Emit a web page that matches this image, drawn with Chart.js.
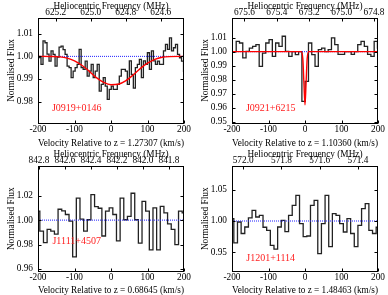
<!DOCTYPE html>
<html>
<head>
<meta charset="utf-8">
<script src="https://cdn.jsdelivr.net/npm/chart.js@4/dist/chart.umd.min.js"></script>
<style>
  html, body { margin: 0; padding: 0; background: #fff; }
  .grid { position: relative; width: 388px; height: 295px; }
  .grid canvas { position: absolute; }
</style>
</head>
<body>
<div class="grid">
  <canvas id="p1" width="194" height="148" style="left:0;top:0"></canvas>
  <canvas id="p2" width="194" height="148" style="left:194px;top:0"></canvas>
  <canvas id="p3" width="194" height="147" style="left:0;top:148px"></canvas>
  <canvas id="p4" width="194" height="147" style="left:194px;top:148px"></canvas>
</div>
<script>
const HI_REST = 1420.405751;
const C_KMS = 299792.458;
const CONTINUUM = 1.0;
const VEL_TICKS = [-200, -100, 0, 100, 200];

// J0919+0146
const j0919Z = 1.27307;
const j0919Freq = [625.2, 625.0, 624.8, 624.6];
const j0919FluxTicks = [0.98, 0.99, 1.00, 1.01];
const j0919Chan = [-200, 5.5];
const j0919Flux = [1.000, 0.9995, 0.9965, 1.0068, 1.0060, 1.0010, 0.9979, 1.0024, 1.0009, 0.9957,
  0.9997, 1.0041, 1.0045, 1.0030, 1.0009, 0.9957, 0.9950, 0.9906, 0.9935, 0.9950,
  0.9965, 1.0031, 0.9950, 0.9943, 0.9979, 0.9913, 0.9935, 0.9965, 0.9906, 0.9935,
  0.9965, 0.9847, 0.9876, 0.9906, 0.9869, 0.9810, 0.9854, 0.9869, 0.9854, 0.9854,
  0.9876, 0.9913, 0.9943, 0.9943, 0.9935, 0.9876, 0.9980, 0.9920, 0.9860, 0.9950,
  0.9965, 0.9987, 0.9906, 0.9980, 0.9965, 1.0016, 0.9943, 1.0024, 0.9980, 0.9965,
  0.9979, 0.9965, 0.9965, 1.0024, 1.0053, 1.0031, 1.0082, 1.0024, 1.0038, 1.0053,
  1.0009, 0.9994, 0.9979, 0.9934];
const j0919FitVel = [-200, -160, -140, -120, -100, -80, -60, -40, -20, 0, 20, 40, 60, 80, 100, 120, 140, 160, 200];
const j0919FitFlux = [1.0000, 0.99995, 0.9998, 0.9992, 0.9980, 0.9961, 0.9935, 0.9906, 0.9885, 0.9875,
  0.9877, 0.9892, 0.9917, 0.9946, 0.9970, 0.9987, 0.9996, 0.9999, 1.0000];

// J0921+6215
const j0921Z = 1.10360;
const j0921Freq = [675.6, 675.4, 675.2, 675.0, 674.8];
const j0921FluxTicks = [0.95, 0.96, 0.97, 0.98, 0.99, 1.00, 1.01];
const j0921Chan = [-202, 9];
const j0921Flux = [1.000, 1.000, 1.0074, 1.0062, 0.9955, 1.0002, 1.0026, 1.0038, 1.0050, 0.9895,
  0.9990, 1.0062, 1.0086, 0.9967, 1.0062, 1.0038, 1.0110, 1.0002, 0.9967, 1.000,
  0.9979, 1.000, 0.9645, 0.9788, 1.0062, 0.9979, 0.9895, 1.0014, 1.0026, 1.000,
  1.0014, 1.0098, 1.0050, 0.9980, 0.9980, 1.000, 1.000, 0.9980, 1.000, 1.0050,
  1.0074, 1.0038, 0.9980, 0.9967, 1.0074, 1.0026];
const j0921FitVel = [-200, -10, -6, -3, 0, 3, 6, 10, 200];
const j0921FitFlux = [1.0, 1.0, 0.995, 0.978, 0.962, 0.978, 0.995, 1.0, 1.0];

// J1111+4507
const j1111Z = 0.68645;
const j1111Freq = [842.8, 842.6, 842.4, 842.2, 842.0, 841.8];
const j1111FluxTicks = [0.96, 0.98, 1.00, 1.02];
const j1111Chan = [-200, 10];
const j1111Flux = [1.0073, 0.991, 0.9816, 0.9924, 0.991, 0.9886, 1.0089, 1.0076, 1.0046, 0.9992,
  0.970, 1.018, 1.0008, 0.991, 1.0003, 1.0208, 1.011, 1.0097, 0.987, 1.0073,
  1.010, 1.0046, 0.983, 1.018, 1.0003, 1.003, 1.022, 1.0003, 0.9812, 1.0154,
  1.0073, 0.9757, 1.010, 0.9757, 1.0113, 1.006, 0.997, 0.9924, 0.980, 1.0073, 1.006];

// J1201+1114
const j1201Z = 1.48463;
const j1201Freq = [572.0, 571.8, 571.6, 571.4];
const j1201FluxTicks = [0.95, 1.00, 1.05];
const j1201Chan = [-200, 10];
const j1201Flux = [1.0037, 0.965, 0.9984, 0.980, 0.9904, 1.005, 1.017, 1.0064, 1.009, 0.990,
  0.985, 0.961, 0.955, 0.9904, 1.0011, 0.983, 1.009, 1.025, 1.041, 0.9957,
  0.975, 0.976, 1.025, 1.033, 0.948, 0.9957, 1.041, 0.959, 1.0117, 1.009,
  0.9957, 0.9824, 1.0037, 0.980, 0.959, 0.993, 1.0197, 1.0277, 0.985, 0.980, 0.990];

const FONT = { family: '"Liberation Serif", "Times New Roman", serif', size: 9.3, lineHeight: 1 };

const boxPlugin = {
    id: 'box',
    afterDatasetsDraw(chart) {
        const { ctx, chartArea: a, scales } = chart;
        const p = chart.options.plugins.box;
        ctx.save();
        ctx.strokeStyle = '#000';
        ctx.lineWidth = 1;
        const l = Math.round(a.left) + 0.5, r = Math.round(a.right) - 0.5;
        const t = Math.round(a.top) + 0.5, b = Math.round(a.bottom) - 0.5;
        ctx.strokeRect(l, t, r - l, b - t);
        ctx.beginPath();
        scales.x.ticks.forEach(tk => {
            const px = Math.round(scales.x.getPixelForValue(tk.value)) + 0.5;
            ctx.moveTo(px, b); ctx.lineTo(px, b - 3);
        });
        scales.xTop.ticks.forEach(tk => {
            const px = Math.round(scales.xTop.getPixelForValue(tk.value)) + 0.5;
            ctx.moveTo(px, t); ctx.lineTo(px, t + 3);
        });
        scales.y.ticks.forEach(tk => {
            const py = Math.round(scales.y.getPixelForValue(tk.value)) + 0.5;
            ctx.moveTo(l, py); ctx.lineTo(l + 3, py);
            ctx.moveTo(r, py); ctx.lineTo(r - 3, py);
        });
        ctx.stroke();
        ctx.fillStyle = '#ff2020';
        ctx.font = '10px "Liberation Serif", serif';
        ctx.textAlign = 'center';
        ctx.textBaseline = 'middle';
        ctx.fillText(p.name, a.left + a.width * 0.265, a.top + a.height * p.labelAt);
        ctx.restore();
    }
};

function makePanel(id, p) {
    const f0 = HI_REST / (1 + p.z);
    const freqVel = p.freq.map(f => C_KMS * (f0 - f) / f0);
    const datasets = [{
        data: p.flux.map((y, i) => ({ x: p.chan[0] + i * p.chan[1], y: y })),
        stepped: 'middle',
        borderColor: '#222',
        borderWidth: 1.3,
        pointRadius: 0,
        order: 3
    }, {
        data: [{ x: -200, y: CONTINUUM }, { x: 200, y: CONTINUUM }],
        borderColor: '#2020ff',
        borderWidth: 1,
        borderDash: [1, 1],
        pointRadius: 0,
        order: 2
    }];
    if (p.fitVel) {
        datasets.push({
            data: p.fitVel.map((x, i) => ({ x: x, y: p.fitFlux[i] })),
            borderColor: '#ff0000',
            borderWidth: 1.4,
            pointRadius: 0,
            cubicInterpolationMode: 'monotone',
            order: 1
        });
    }
    new Chart(document.getElementById(id), {
        type: 'line',
        data: { datasets: datasets },
        options: {
            responsive: false,
            animation: false,
            devicePixelRatio: 1,
            layout: { padding: { left: 0, right: 10, top: 0, bottom: 0 } },
            plugins: {
                legend: { display: false },
                tooltip: { enabled: false },
                box: { name: p.name, labelAt: p.labelAt }
            },
            scales: {
                x: {
                    type: 'linear', position: 'bottom', min: -200, max: 200,
                    afterBuildTicks: s => { s.ticks = VEL_TICKS.map(v => ({ value: v })); },
                    afterFit: s => { s.height = p.bottomH; },
                    grid: { display: false, drawTicks: false },
                    border: { display: false },
                    ticks: { color: '#000', font: FONT, padding: 1, maxRotation: 0, autoSkip: false, callback: v => String(v) },
                    title: { display: true, text: 'Velocity Relative to z = ' + p.z.toFixed(5) + ' (km/s)', color: '#000', font: FONT, padding: 0 }
                },
                xTop: {
                    type: 'linear', position: 'top', min: -200, max: 200,
                    afterBuildTicks: s => { s.ticks = freqVel.map(v => ({ value: v })); },
                    afterFit: s => { s.height = 17.5; },
                    grid: { display: false, drawTicks: false },
                    border: { display: false },
                    ticks: { color: '#000', font: FONT, padding: 0, maxRotation: 0, autoSkip: false, callback: (v, i) => p.freq[i].toFixed(1) },
                    title: { display: true, text: 'Heliocentric Frequency (MHz)', color: '#000', font: FONT, padding: 2 }
                },
                y: {
                    type: 'linear', position: 'left', min: p.yMin, max: p.yMax,
                    afterBuildTicks: s => { s.ticks = p.fluxTicks.map(v => ({ value: v })); },
                    afterFit: s => { s.width = 38; },
                    grid: { display: false, drawTicks: false },
                    border: { display: false },
                    ticks: { color: '#000', font: FONT, padding: 5, autoSkip: false, callback: v => v.toFixed(2) },
                    title: { display: true, text: 'Normalised Flux', color: '#000', font: FONT, padding: 7 }
                }
            }
        },
        plugins: [boxPlugin]
    });
}

makePanel('p1', { name: 'J0919+0146', z: j0919Z, freq: j0919Freq, fluxTicks: j0919FluxTicks, chan: j0919Chan, flux: j0919Flux,
    fitVel: j0919FitVel, fitFlux: j0919FitFlux, yMin: 0.97038, yMax: 1.01715, labelAt: 0.854, bottomH: 24.5 });
makePanel('p2', { name: 'J0921+6215', z: j0921Z, freq: j0921Freq, fluxTicks: j0921FluxTicks, chan: j0921Chan, flux: j0921Flux,
    fitVel: j0921FitVel, fitFlux: j0921FitFlux, yMin: 0.94871, yMax: 1.0244, labelAt: 0.857, bottomH: 24.5 });
makePanel('p3', { name: 'J1111+4507', z: j1111Z, freq: j1111Freq, fluxTicks: j1111FluxTicks, chan: j1111Chan, flux: j1111Flux,
    yMin: 0.95754, yMax: 1.0447, labelAt: 0.712, bottomH: 23 });
makePanel('p4', { name: 'J1201+1114', z: j1201Z, freq: j1201Freq, fluxTicks: j1201FluxTicks, chan: j1201Chan, flux: j1201Flux,
    yMin: 0.9185, yMax: 1.0887, labelAt: 0.875, bottomH: 23 });
</script>
</body>
</html>
